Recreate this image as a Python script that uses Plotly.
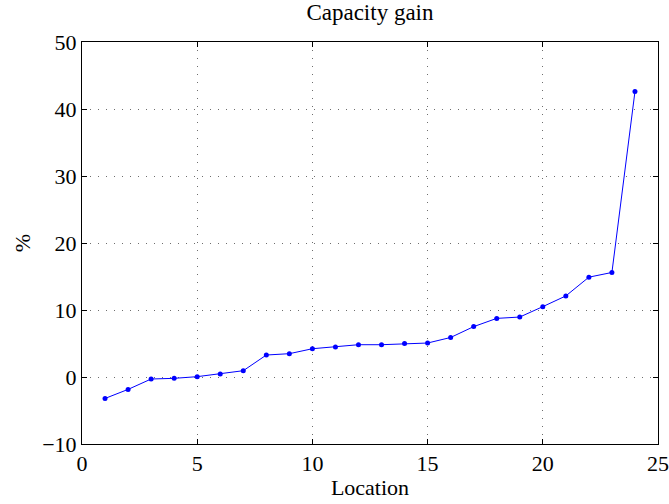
import plotly.graph_objects as go

locations = list(range(1, 25))
gain = [-3.2, -1.85, -0.3, -0.2, 0.05, 0.45, 0.94, 3.28, 3.48, 4.22, 4.47, 4.82,
        4.82, 5.0, 5.07, 5.9, 7.52, 8.75, 8.95, 10.5, 12.1, 14.9, 15.6, 42.6]

x_ticks = [0, 5, 10, 15, 20, 25]
y_ticks = [-10, 0, 10, 20, 30, 40, 50]

font_family = "Liberation Serif, Times New Roman, serif"

fig = go.Figure()
fig.add_trace(go.Scatter(
    x=locations, y=gain, mode="lines+markers",
    line=dict(color="#0000FF", width=1),
    marker=dict(color="#0000FF", size=5),
    showlegend=False,
))

axis_common = dict(
    showline=True, linecolor="black", linewidth=1, mirror="allticks",
    ticks="inside", ticklen=5, tickcolor="black",
    showgrid=True, gridcolor="#6e6e6e", gridwidth=1, griddash="1px,7px",
    zeroline=False, automargin=False,
    tickfont=dict(family=font_family, size=22, color="black"),
)

fig.update_layout(
    width=669, height=504,
    paper_bgcolor="white", plot_bgcolor="white",
    margin=dict(l=82, r=11, t=42, b=60, autoexpand=False),
    font=dict(family=font_family, color="black"),
    title=dict(text="Capacity gain", x=0.553, xanchor="center", y=0.976, yanchor="middle",
               font=dict(family=font_family, size=23, color="black")),
    xaxis=dict(range=[0, 25], tickvals=x_ticks,
               title=dict(text="Location", standoff=4,
                          font=dict(family=font_family, size=22, color="black")),
               **axis_common),
    yaxis=dict(range=[-10, 50], tickvals=y_ticks,
               title=dict(text="%", standoff=5,
                          font=dict(family=font_family, size=22, color="black")),
               **axis_common),
)

fig.write_html("out.html", config={"displayModeBar": False},
               post_script="document.body.style.margin='0';document.body.style.overflow='hidden';")
